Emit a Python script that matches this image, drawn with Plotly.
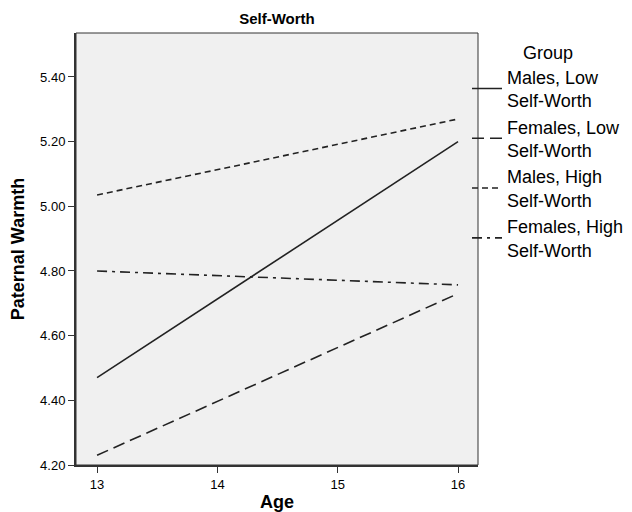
import plotly.graph_objects as go

ages = [13, 16]
groups = ["Males, Low<br>Self-Worth", "Females, Low<br>Self-Worth",
          "Males, High<br>Self-Worth", "Females, High<br>Self-Worth"]
males_low = [4.47, 5.20]
females_low = [4.23, 4.73]
males_high = [5.035, 5.27]
females_high = [4.80, 4.757]
y_ticks = [4.20, 4.40, 4.60, 4.80, 5.00, 5.20, 5.40]
x_ticks = [13, 14, 15, 16]

series = [males_low, females_low, males_high, females_high]
dashes = ["solid", "12px,6px", "6px,4px", "10px,5px,3px,5px"]

fig = go.Figure()
for name, vals, dash in zip(groups, series, dashes):
    fig.add_trace(go.Scatter(x=ages, y=vals, mode="lines", name=name,
                             line=dict(color="#222222", width=1.6, dash=dash)))

# page body adds an 8px offset, so the figure is 8px smaller than the window
W, H = 624, 504
L, R, T, B = 68, 154, 25, 47
font = "Liberation Sans, Arial, sans-serif"
fig.update_layout(
    width=W, height=H,
    margin=dict(l=L, r=R, t=T, b=B, autoexpand=False),
    paper_bgcolor="white", plot_bgcolor="#f0f0f0",
    font=dict(family=font, color="black", size=13),
    title=dict(text="<b>Self-Worth</b>", x=(L + (W - R)) / 2 / W, xanchor="center",
               y=1 - 11 / H, yanchor="middle", font=dict(size=15)),
    legend=dict(x=(459 - L) / (W - L - R), xanchor="left", y=0.995, yanchor="top",
                title=dict(text="Group", side="top center", font=dict(size=18)),
                font=dict(size=18), bgcolor="rgba(0,0,0,0)",
                tracegroupgap=0, itemwidth=30),
    showlegend=True,
)
fig.update_xaxes(range=[12.825, 16.166], tickvals=x_ticks, ticktext=[str(v) for v in x_ticks],
                 showgrid=False, zeroline=False, showline=True, linecolor="#333", linewidth=2,
                 ticks="outside", ticklen=6, tickcolor="#333", automargin=False,
                 title=dict(text="<b>Age</b>", font=dict(size=18), standoff=9))
fig.update_yaxes(range=[4.20, 5.536], tickvals=y_ticks, ticktext=[f"{v:.2f}" for v in y_ticks],
                 showgrid=False, zeroline=False, showline=True, linecolor="#333", linewidth=2,
                 ticks="outside", ticklen=6, tickcolor="#333", automargin=False,
                 title=dict(text="<b>Paternal Warmth</b>", font=dict(size=18), standoff=11))
fig.add_shape(type="rect", xref="paper", yref="paper", x0=0, x1=1, y0=0, y1=1,
              line=dict(color="#333", width=1))

fig.write_html("out.html")
